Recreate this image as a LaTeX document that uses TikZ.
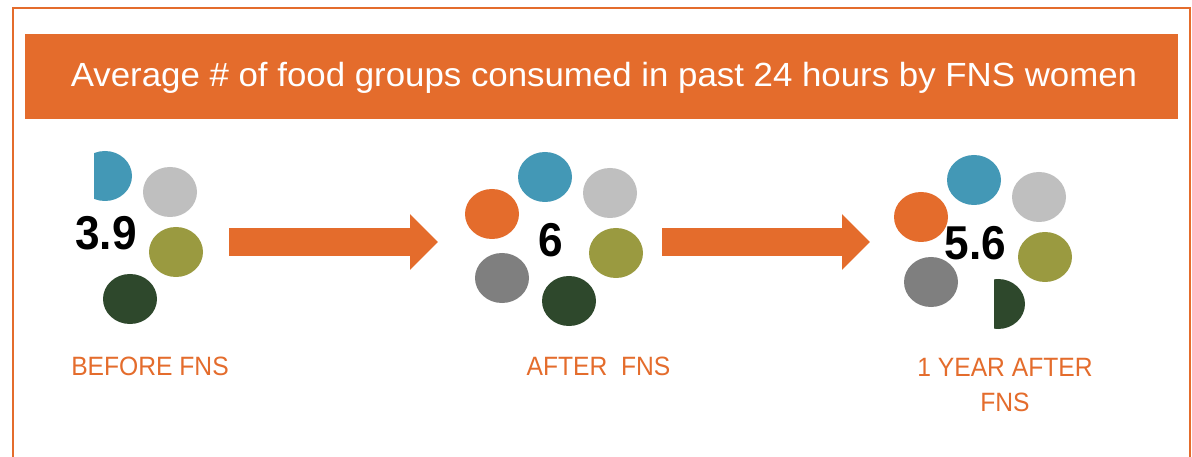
\documentclass[tikz,border=0pt]{standalone}
\usepackage{fontspec}
\usepackage{tikz}
\usetikzlibrary{shapes.geometric,arrows.meta}
\newfontfamily\titlefont[FakeStretch=1.04]{Liberation Sans}
\newfontfamily\labelfont[FakeStretch=0.93]{Liberation Sans}
\newfontfamily\numfont[FakeStretch=0.93]{Liberation Sans Bold}

\definecolor{fnsOrange}{RGB}{228,108,44}
\definecolor{dotBlue}{RGB}{67,152,182}
\definecolor{dotLight}{RGB}{191,191,191}
\definecolor{dotOlive}{RGB}{154,154,64}
\definecolor{dotDark}{RGB}{46,72,44}
\definecolor{dotGray}{RGB}{127,127,127}

\tikzset{
  dot/.style={ellipse,minimum width=54pt,minimum height=50pt,inner sep=0pt,fill=#1},
  stagelabel/.style={text=fnsOrange,anchor=base,inner sep=0pt,font=\labelfont\fontsize{26.5}{30}\selectfont},
  avgnum/.style={text=black,anchor=base,inner sep=0pt,font=\numfont\fontsize{47.5}{50}\selectfont},
  bigarrow/.style={draw=fnsOrange,line width=28pt,-{Triangle[length=28pt,width=54pt]}}
}

\begin{document}
\begin{tikzpicture}[x=1pt,y=-1pt]
\path[use as bounding box,fill=white] (0,0) rectangle (1192,457);

% frame and banner
\draw[fnsOrange,line width=2.5pt] (13,457) -- (13,8) -- (1190,8) -- (1190,457);
\fill[fnsOrange] (25,34) rectangle (1178,119);
\node[text=white,anchor=base,inner sep=0pt,font=\titlefont\fontsize{33.5}{36}\selectfont] (title) at (604,87) {Average \# of food groups consumed in past 24 hours by FNS women};

% before FNS
\begin{scope}
\clip (94,140) rectangle (140,210);
\fill[dotBlue] (105,176) ellipse [x radius=27, y radius=25];
\end{scope}
\node[dot=dotLight] (bfLight) at (170,192) {};
\node[dot=dotOlive] (bfOlive) at (176,252) {};
\node[dot=dotDark] (bfDark) at (130,299) {};
\node[avgnum] (bfNum) at (106,250) {3.9};
\node[stagelabel] (bfLabel) at (150,375) {BEFORE FNS};

% after FNS
\node[dot=dotBlue] (afBlue) at (545,177) {};
\node[dot=dotLight] (afLight) at (610,193) {};
\node[dot=fnsOrange] (afOrange) at (492,214) {};
\node[dot=dotOlive] (afOlive) at (616,253) {};
\node[dot=dotGray] (afGray) at (502,278) {};
\node[dot=dotDark] (afDark) at (569,301) {};
\node[avgnum] (afNum) at (550.5,257) {6};
\node[stagelabel] (afLabel) at (598.5,375) {AFTER\ \ FNS};

% 1 year after FNS
\node[dot=dotBlue] (yrBlue) at (974,180) {};
\node[dot=dotLight] (yrLight) at (1039,197) {};
\node[dot=fnsOrange] (yrOrange) at (921,217) {};
\node[dot=dotOlive] (yrOlive) at (1045,257) {};
\node[dot=dotGray] (yrGray) at (931,282) {};
\begin{scope}
\clip (994,270) rectangle (1035,340);
\fill[dotDark] (998,304) ellipse [x radius=27, y radius=25];
\end{scope}
\node[avgnum] (yrNum) at (975.5,260) {5.6};
\node[stagelabel] (yrLabel) at (1005,376) {1 YEAR AFTER};
\node[stagelabel] (yrLabelB) at (1005,411) {FNS};

% arrows
\coordinate (arrA) at (229,242);
\coordinate (arrB) at (438,242);
\coordinate (arrC) at (662,242);
\coordinate (arrD) at (870,242);
\draw[bigarrow] (arrA) -- (arrB);
\draw[bigarrow] (arrC) -- (arrD);
\end{tikzpicture}
\end{document}
